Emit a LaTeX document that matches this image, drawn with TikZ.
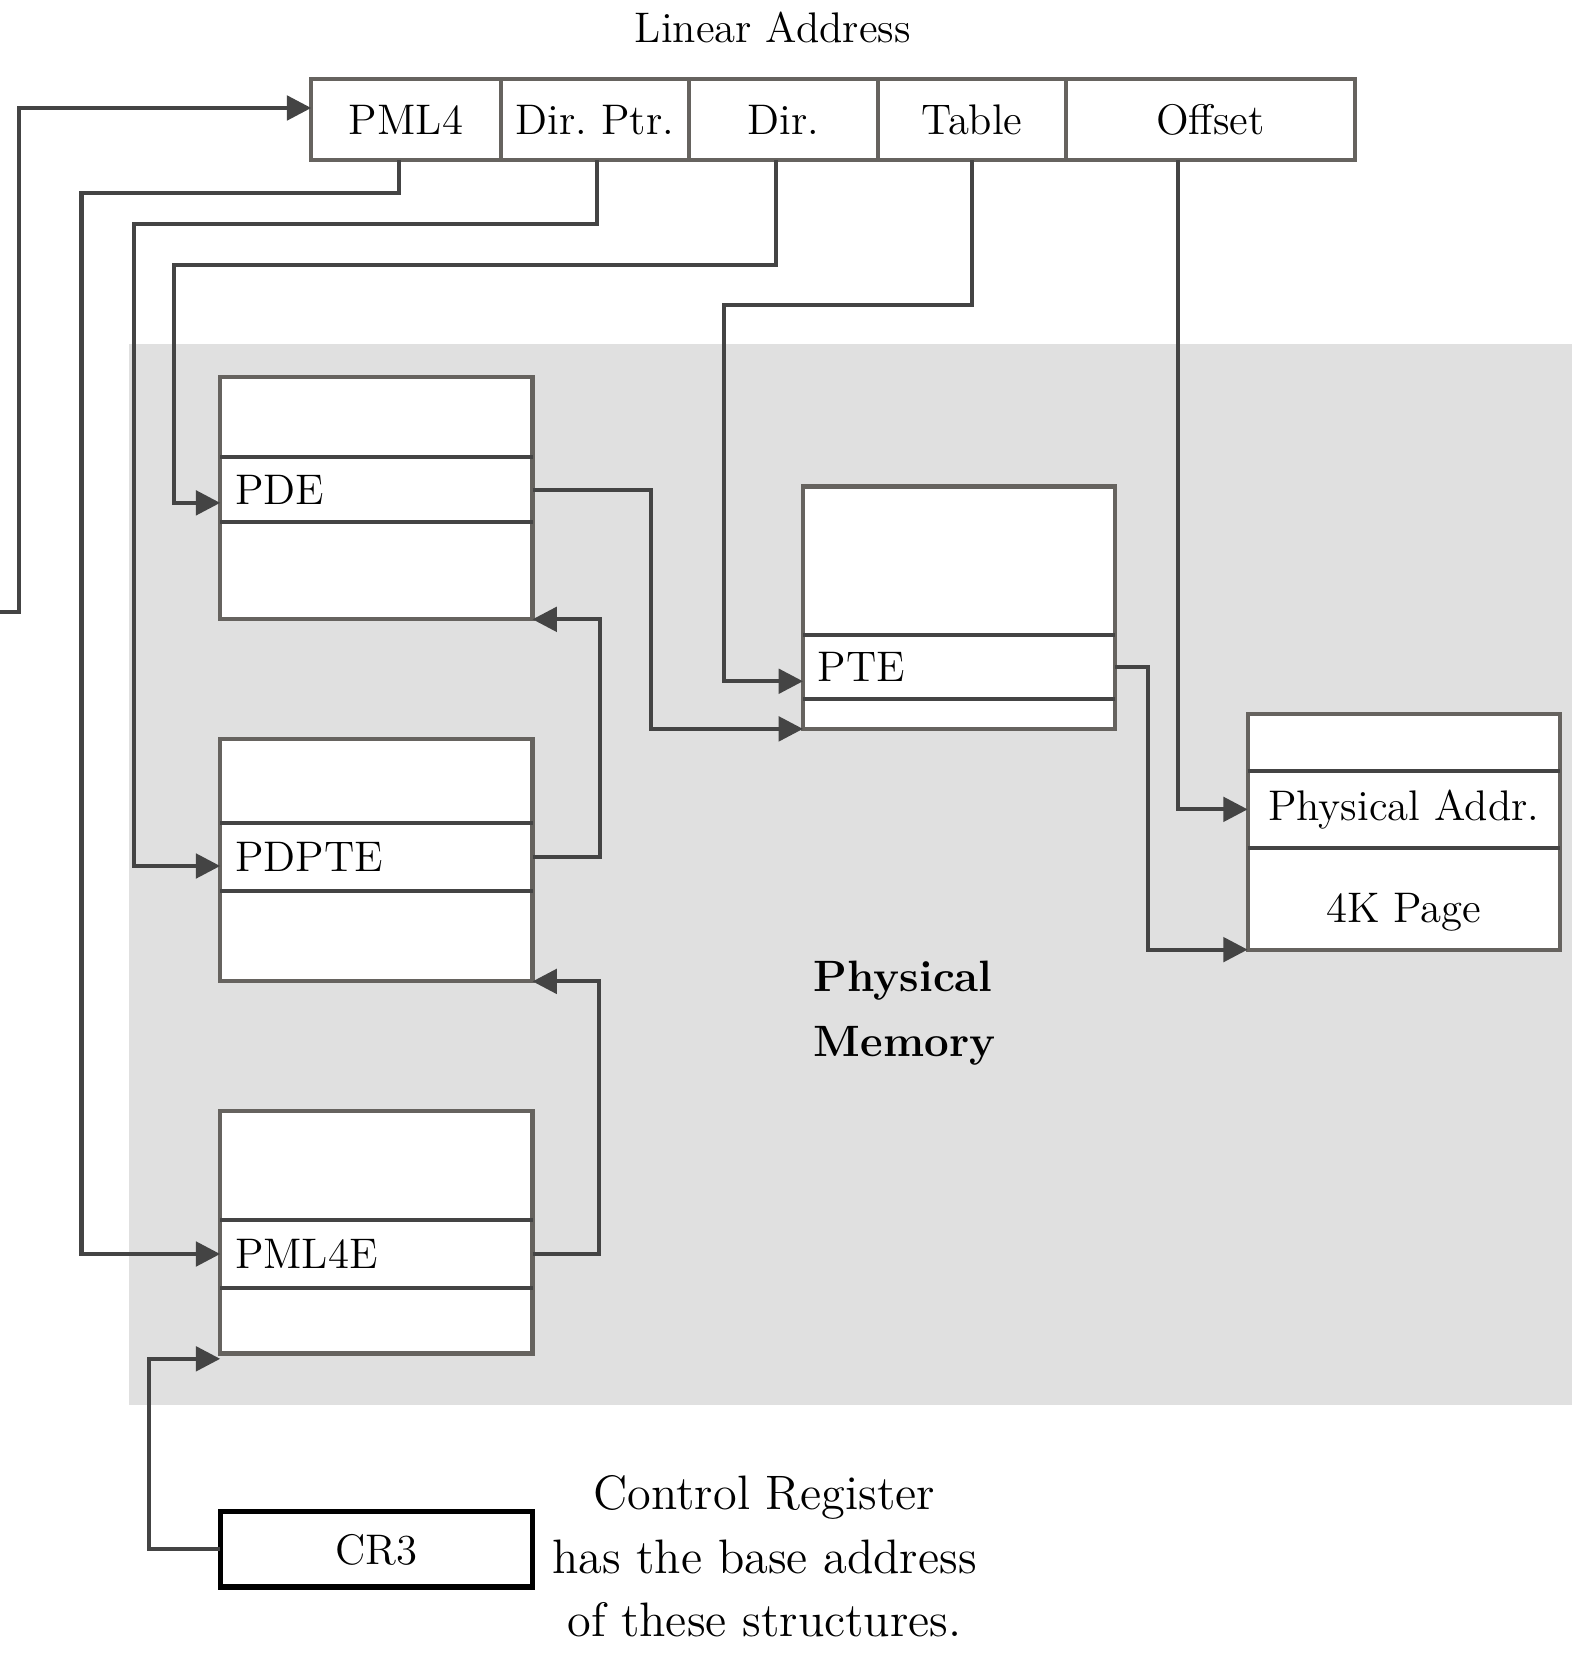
\documentclass[tikz,border=0pt]{standalone}
\usetikzlibrary{positioning,arrows.meta}
\definecolor{boxgray}{HTML}{66635F}
\definecolor{linegray}{HTML}{444444}
\definecolor{memgray}{HTML}{E0E0E0}
\newcommand{\lblfont}{\fontsize{11.5pt}{14pt}\selectfont}
\newcommand{\capfont}{\fontsize{13pt}{17pt}\selectfont}
\newcommand{\memfont}{\fontsize{11.8pt}{17.4pt}\selectfont\bfseries}
\frenchspacing
\begin{document}
\begin{tikzpicture}[x=1mm, y=-1mm, >={Triangle[length=2.3mm,width=2.3mm]}, font=\lblfont,
	field/.style={draw=boxgray, line width=1.1pt, fill=white, outer sep=0pt, inner sep=0pt, minimum height=7.6mm, minimum width=17.8mm},
	tblbox/.style={draw=boxgray, line width=1.1pt, fill=white, outer sep=0pt, minimum width=29.5mm, minimum height=22.9mm},
	tblrow/.style={outer sep=0pt, inner ysep=0pt, inner xsep=1.4mm, text width=26.7mm, align=left},
	divider/.style={draw=linegray, line width=1.1pt},
	link/.style={draw=linegray, line width=1.1pt, ->}]
	\useasboundingbox (0,0) rectangle (148.5,156.8);
	\fill[memgray] (12.2,32.5) rectangle (148.5,132.7);
	
	\node (linaddr) at (73.0,2.6) {Linear Address};
	\node[field, minimum width=17.9mm] (pml4) at (38.35,11.3) {PML4};
	\node[field, right=0pt of pml4] (dirptr) {Dir. Ptr.};
	\node[field, right=0pt of dirptr] (dir) {Dir.};
	\node[field, right=0pt of dir] (table) {Table};
	\node[field, minimum width=27.3mm, right=0pt of table] (offset) {Offset};
	
	\foreach \nm/\cx/\cy/\gp/\hh/\etext in {pde/35.55/47.05/7.6/6.1/PDE, pdpte/35.55/81.25/7.9/6.5/PDPTE, pml4e/35.55/116.4/10.3/6.4/PML4E, pte/90.6/57.4/14.0/6.1/PTE}{
		\node[tblbox] (\nm) at (\cx,\cy) {};
		\node[tblrow, minimum height=\hh mm, below=\gp mm of \nm.north] (\nm E) {\etext};
	}
	\node[tblbox, minimum height=22.3mm] (page) at (132.6,78.55) {};
	\node[tblrow, align=center, minimum height=7.3mm, below=5.4mm of page.north] (addrE) {Physical Addr.};
	\node[inner sep=0pt, minimum height=9.6mm, below=0pt of addrE, yshift=-1.2mm] (pagelbl) {4K Page};
	\foreach \r in {pdeE,pdpteE,pml4eE,pteE,addrE}
	\draw[divider] (\r.north west) -- (\r.north east) (\r.south west) -- (\r.south east);
	
	\node[draw=black, line width=1.4pt, fill=white, outer sep=0pt, minimum width=29.5mm, minimum height=7.1mm] (cr3) at (35.55,146.35) {CR3};
	\node[font=\capfont, align=center] (note) at (72.2,147.0) {Control Register\\has the base address\\of these structures.};
	\node[font=\memfont, align=left, anchor=west, inner sep=0pt] (mem) at (76.8,95.7) {Physical\\Memory};
	
	\coordinate (loopin) at (0,57.8);
	\draw[link] (loopin) -- ++(1.8,0) |- ([yshift=1.1mm]pml4.west);
	\draw[link] ([xshift=-.65mm]pml4.south) |- (7.7,18.2) |- (pml4eE.west);
	\draw[link] ([xshift=.2mm]dirptr.south) |- (12.7,21.2) |- ([yshift=-.85mm]pdpteE.west);
	\draw[link] ([xshift=-.7mm]dir.south) |- (16.4,25.0) |- ([yshift=-1.25mm]pdeE.west);
	\draw[link] (table.south) |- (68.4,28.8) |- ([yshift=-1.35mm]pteE.west);
	\draw[link] ([xshift=-3.05mm]offset.south) |- (addrE.west);
	\draw[link] (pdeE.east) -- ++(11.2,0) |- (pte.south west);
	\draw[link] (pteE.east) -- ++(3.1,0) |- (page.south west);
	\draw[link] (pdpteE.east) -- ++(6.4,0) |- (pde.south east);
	\draw[link] (pml4eE.east) -- ++(6.3,0) |- (pdpte.south east);
	\draw[link] (cr3.west) -- ++(-6.7,0) |- ([yshift=-.5mm]pml4e.south west);
\end{tikzpicture}
\end{document}
